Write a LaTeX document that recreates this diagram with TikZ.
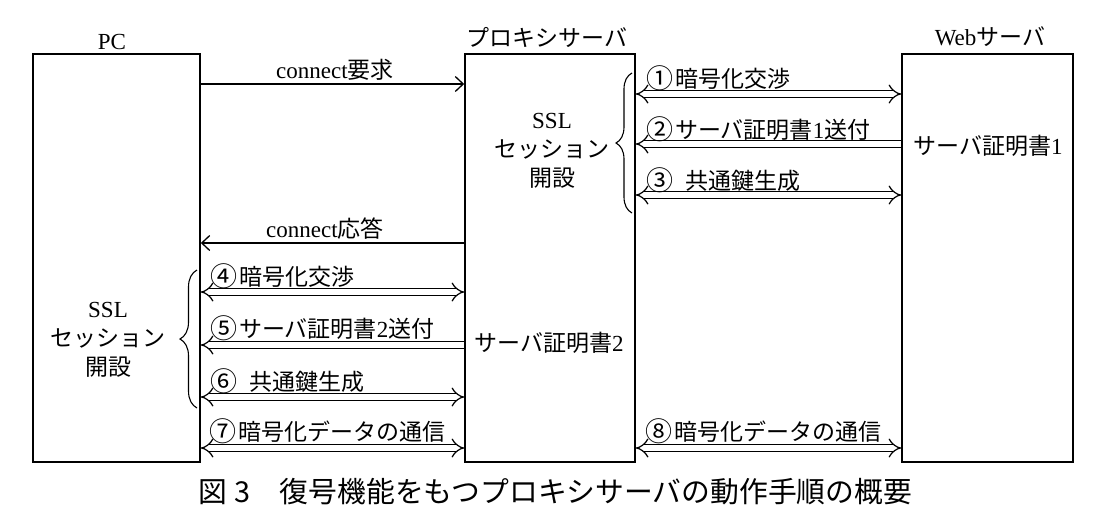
\documentclass[tikz,border=0pt]{standalone}
\usepackage{fontspec}
\setmainfont{Liberation Serif}
\newfontfamily\jp{Noto Sans CJK JP}
\newcommand\cnum[1]{{\jp\fontsize{27}{29}\selectfont\raisebox{-1pt}{#1}}\hspace{2pt}}
\usetikzlibrary{arrows.meta,decorations.pathreplacing}
\begin{document}
\begin{tikzpicture}[x=1pt,y=-1pt]
\tikzset{
  boxst/.style={draw, line width=1.6pt, minimum width=#1, minimum height=408pt, inner sep=0pt},
  lbl/.style={inner sep=0pt, font=\fontsize{23}{29}\selectfont},
  dbl/.style={double, double distance=5.5pt, line width=1.2pt},
  sgl/.style={line width=1.3pt},
  bar/.style={-{Straight Barb[length=8pt,width=15pt,line width=1.3pt]}},
  bracest/.style={line width=1.1pt, decorate, decoration={brace, amplitude=#1}},
}
\useasboundingbox (0,0) rectangle (1104,520);
% boxes
\node[boxst=167pt] (pc) at (116.5,258) {};
\node[boxst=170pt] (px) at (550,258) {};
\node[boxst=171pt] (web) at (987.5,258) {};
% titles
\node[lbl] (pcl) at (112,42) {PC};
\node[lbl] (pxl) at (547,37) {\jp プロキシサーバ};
\node[lbl] (webl) at (990,37) {Web{\jp サーバ}};
% rows
\coordinate (rq) at (0,84);
\coordinate (r1) at (0,94);
\coordinate (r2) at (0,144);
\coordinate (r3) at (0,195);
\coordinate (rr) at (0,243);
\coordinate (r4) at (0,292);
\coordinate (r5) at (0,345);
\coordinate (r6) at (0,397);
\coordinate (r7) at (0,448);
% connect request / response
\draw[sgl,bar] (pc.east |- rq) -- (px.west |- rq);
\node[lbl] (tq) at (335,70) {connect{\jp 要求}};
\draw[sgl,bar] (px.west |- rr) -- (pc.east |- rr);
\node[lbl] (tr) at (325,229) {connect{\jp 応答}};
% proxy <-> web handshake
\draw[dbl,{Implies[scale=1.6]}-{Implies[scale=1.6]}] (px.east |- r1) -- (web.west |- r1);
\node[lbl,anchor=west] (t1) at (646,78) {\cnum{①}{\jp 暗号化交渉}};
\draw[dbl,{Implies[scale=1.6]}-] (px.east |- r2) -- (web.west |- r2);
\node[lbl,anchor=west] (t2) at (646,129) {\cnum{②}{\jp サーバ証明書}1{\jp 送付}};
\draw[dbl,{Implies[scale=1.6]}-{Implies[scale=1.6]}] (px.east |- r3) -- (web.west |- r3);
\node[lbl,anchor=west] (t3) at (646,180) {\cnum{③}\hspace{10pt}{\jp 共通鍵生成}};
% pc <-> proxy handshake
\draw[dbl,{Implies[scale=1.6]}-{Implies[scale=1.6]}] (pc.east |- r4) -- (px.west |- r4);
\node[lbl,anchor=west] (t4) at (210,276) {\cnum{④}{\jp 暗号化交渉}};
\draw[dbl,{Implies[scale=1.6]}-] (pc.east |- r5) -- (px.west |- r5);
\node[lbl,anchor=west] (t5) at (210,328) {\cnum{⑤}{\jp サーバ証明書}2{\jp 送付}};
\draw[dbl,{Implies[scale=1.6]}-{Implies[scale=1.6]}] (pc.east |- r6) -- (px.west |- r6);
\node[lbl,anchor=west] (t6) at (210,381) {\cnum{⑥}\hspace{10pt}{\jp 共通鍵生成}};
\draw[dbl,{Implies[scale=1.6]}-{Implies[scale=1.6]}] (pc.east |- r7) -- (px.west |- r7);
\node[lbl,anchor=west] (t7) at (209,431) {\cnum{⑦}{\jp 暗号化データの通信}};
\draw[dbl,{Implies[scale=1.6]}-{Implies[scale=1.6]}] (px.east |- r7) -- (web.west |- r7);
\node[lbl,anchor=west] (t8) at (645,431) {\cnum{⑧}{\jp 暗号化データの通信}};
% braces and SSL texts
\draw[bracest=16pt] (632,213) -- (632,73);
\node[lbl,align=center] (ssl1) at (552,151) {SSL\\{\jp セッション}\\{\jp 開設}};
\draw[bracest=17pt] (197,408) -- (197,270);
\node[lbl,align=center] (ssl2) at (108,340) {SSL\\{\jp セッション}\\{\jp 開設}};
% certificates
\node[lbl] (c1) at (988,146) {{\jp サーバ証明書}1};
\node[lbl] (c2) at (549,343) {{\jp サーバ証明書}2};
% caption
\node[inner sep=0pt, anchor=west, font=\fontsize{28.8}{34}\selectfont\jp] (cap) at (198,492) {図\hspace{8pt}3\hspace{29pt}復号機能をもつプロキシサーバの動作手順の概要};
\end{tikzpicture}
\end{document}
